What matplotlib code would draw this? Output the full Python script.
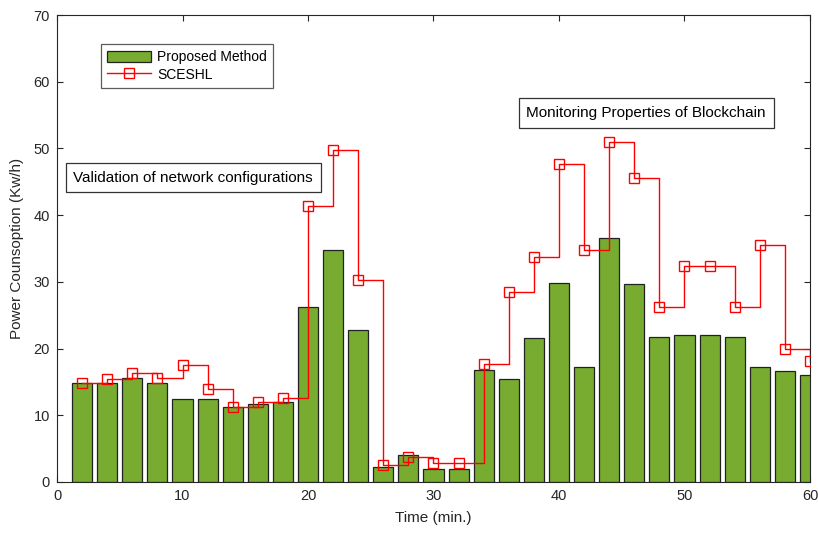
import matplotlib
matplotlib.use("Agg")
import matplotlib.pyplot as plt
from matplotlib.patches import Patch
from matplotlib.lines import Line2D

plt.rcParams['font.family'] = ['Liberation Sans', 'DejaVu Sans']

time = [2, 4, 6, 8, 10, 12, 14, 16, 18, 20, 22, 24, 26, 28, 30,
        32, 34, 36, 38, 40, 42, 44, 46, 48, 50, 52, 54, 56, 58, 60]
proposed = [14.8, 14.9, 15.6, 14.9, 12.4, 12.5, 11.2, 11.7, 12.0, 26.2,
            34.7, 22.8, 2.2, 4.1, 1.9, 2.0, 16.8, 15.5, 21.6, 29.9,
            17.2, 36.6, 29.7, 21.8, 22.1, 22.1, 21.8, 17.3, 16.6, 16.1]
sceshl = [14.8, 15.4, 16.4, 15.6, 17.5, 13.9, 11.3, 12.0, 12.6, 41.4,
          49.7, 30.3, 2.5, 3.8, 2.8, 2.9, 17.7, 28.5, 33.7, 47.7,
          34.8, 51.0, 45.5, 26.3, 32.4, 32.4, 26.3, 35.5, 19.9, 18.2]
labels = ["Proposed Method", "SCESHL"]
annotations = ["Validation of network configurations", "Monitoring Properties of Blockchain"]

fig = plt.figure(figsize=(8.18, 5.34), dpi=100)
ax = fig.add_axes([0.0697, 0.0974, 0.9205, 0.8745])

green = '#77AC30'
ax.bar(time, proposed, width=1.6, color=green, edgecolor='#222222', linewidth=0.9, zorder=2)
ax.step(time, sceshl, where='post', color='red', linewidth=1.0, zorder=3)
ax.plot(time, sceshl, linestyle='none', marker='s', markersize=7.5,
        markerfacecolor='none', markeredgecolor='red', markeredgewidth=1.0, zorder=4)

ax.set_xlim(0, 60)
ax.set_ylim(0, 70)
ax.set_xticks(range(0, 61, 10))
ax.set_yticks(range(0, 71, 10))
ax.tick_params(direction='in', top=True, right=True, length=4, width=0.8,
               colors='#262626', labelsize=10.5, labelcolor='#262626', pad=5)
for s in ax.spines.values():
    s.set_color('#262626')
    s.set_linewidth(0.8)

ax.set_xlabel("Time (min.)", fontsize=11, color='#262626', labelpad=6)
ax.set_ylabel("Power Counsoption (Kw/h)", fontsize=11, color='#262626', labelpad=7)

bbox = dict(boxstyle='square,pad=0.5', facecolor='white', edgecolor='#333333', linewidth=0.9)
ax.text(1.3, 45.6, annotations[0], fontsize=11, va='center', ha='left', bbox=bbox, zorder=5)
ax.text(37.4, 55.3, annotations[1], fontsize=11, va='center', ha='left', bbox=bbox, zorder=5)

handles = [Patch(facecolor=green, edgecolor='#222222', linewidth=0.9),
           Line2D([0], [0], color='red', lw=1.0, marker='s', markersize=7.5,
                  markerfacecolor='none', markeredgecolor='red')]
leg = ax.legend(handles, labels, loc='upper left', bbox_to_anchor=(0.058, 0.938),
                borderaxespad=0, fontsize=10, frameon=True, fancybox=False,
                edgecolor='#333333', handlelength=3.2, handleheight=0.9,
                handletextpad=0.4, borderpad=0.45, labelspacing=0.25)
leg.get_frame().set_linewidth(0.9)

fig.savefig("out.png", dpi=100)
